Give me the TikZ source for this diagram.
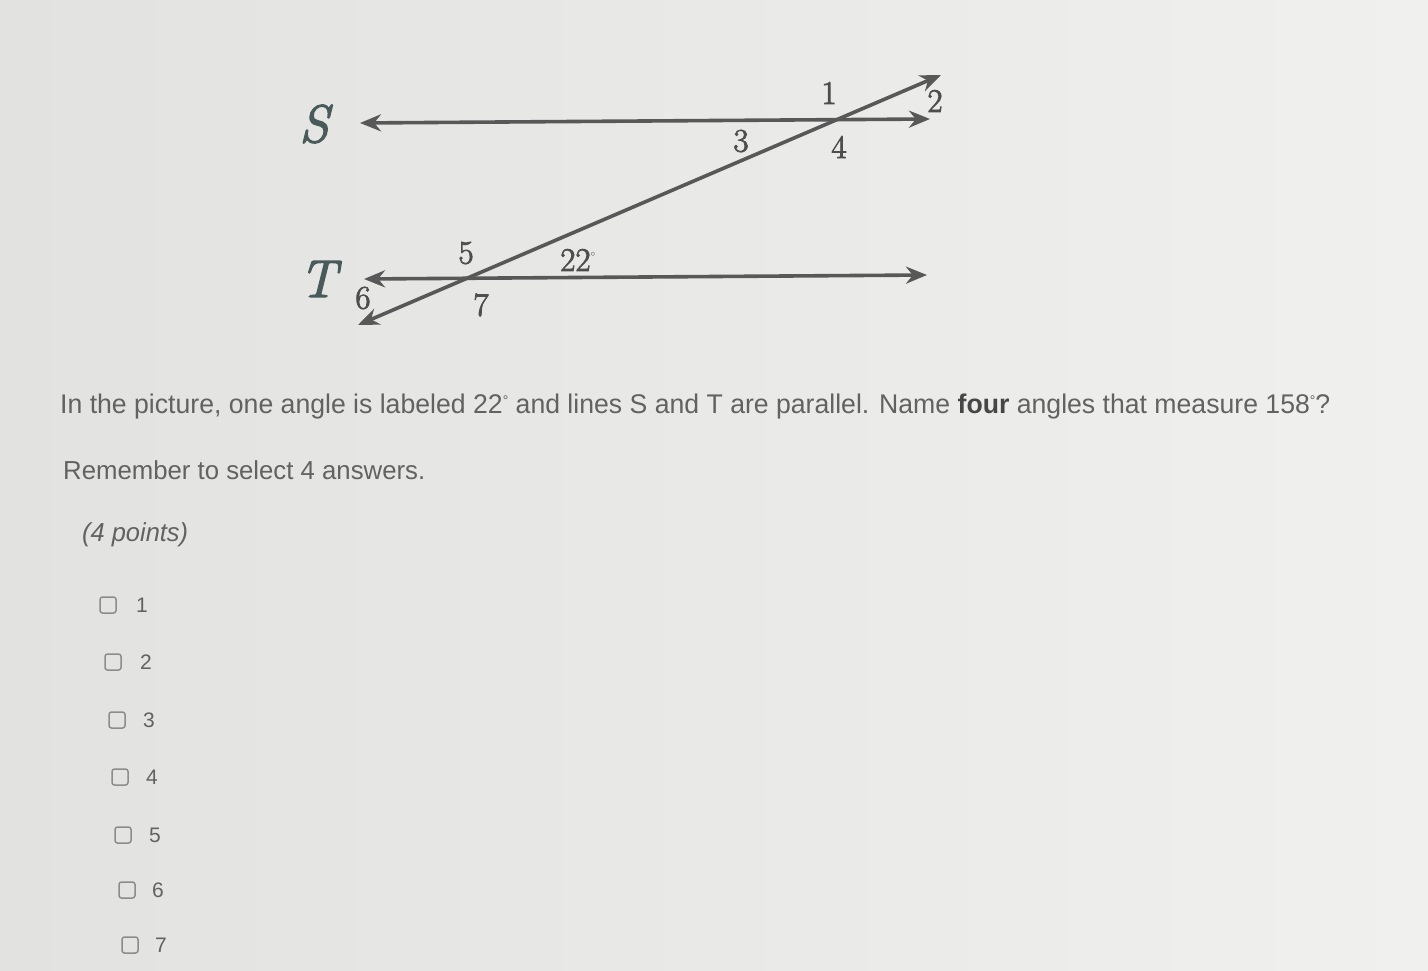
\documentclass[tikz,border=0pt]{standalone}
\usepackage{fontspec}
\usepackage{graphicx}
\newfontfamily\arial{Liberation Sans}
\newfontfamily\numfont{Latin Modern Roman}[FakeBold=2.5]
\usetikzlibrary{arrows.meta}
\definecolor{bgl}{RGB}{226,226,224}
\definecolor{bgr}{RGB}{240,240,238}
\definecolor{ln}{RGB}{88,88,88}
\definecolor{tx}{RGB}{78,78,78}
\definecolor{lt}{RGB}{72,90,90}
\definecolor{qt}{RGB}{98,98,98}
\definecolor{qb}{RGB}{70,70,70}
\definecolor{bx}{RGB}{140,140,140}
\begin{document}
\begin{tikzpicture}[x=1pt,y=-1pt,
  geoline/.style={draw=ln, line width=3.6pt,
    {Stealth[length=21pt,width=17pt]}-{Stealth[length=21pt,width=17pt]}},
  num/.style={text=tx, font=\numfont\fontsize{33}{33}\selectfont, inner sep=0pt},
  linename/.style={text=lt, font=\numfont\itshape\fontsize{53}{53}\selectfont, inner sep=0pt},
  qtext/.style={text=qt, anchor=base west, inner sep=0pt},
  cbox/.style={draw=bx, line width=1.5pt, rounded corners=2.5pt, minimum size=16pt, inner sep=0pt},
  opt/.style={text=qt, anchor=west, inner sep=0pt, font=\arial\fontsize{21}{21}\selectfont}]
\useasboundingbox (0,0) rectangle (1428,971);
\shade[left color=bgl, right color=bgr] (0,0) rectangle (1428,971);

% lines
\coordinate (sL) at (360,123);
\coordinate (sR) at (930,119);
\coordinate (tL) at (364,279);
\coordinate (tR) at (927,275);
\coordinate (xB) at (358,325);
\coordinate (xT) at (941,75);
\draw[geoline] (sL) -- (sR);
\draw[geoline] (tL) -- (tR);
\draw[geoline] (xB) -- (xT);

% line names
\node[linename] (S) at (314,124) {S};
\node[linename] (T) at (318,279) {T};

% angle numbers
\node[num] (a1) at (829,93) {1};
\node[num] (a2) at (935,101) {2};
\node[num] (a3) at (741,141) {3};
\node[num] (a4) at (839,147) {4};
\node[num] (a5) at (466,253) {5};
\node[num] (a6) at (363,298) {6};
\node[num] (a7) at (481,305) {7};
\node[num] (a22) at (578,260) {22\raisebox{10pt}{\fontsize{13}{13}\selectfont$^\circ$}};

% question
\node[qtext] (q1) at (60,413) {\resizebox{1270pt}{\height}{\arial\fontsize{27}{30}\selectfont In the picture, one angle is labeled 22\raisebox{8pt}{\fontsize{14}{14}\selectfont °} and lines S and T are parallel. Name \textcolor{qb}{\bfseries four} angles that measure 158\raisebox{8pt}{\fontsize{14}{14}\selectfont °}?}};
\node[qtext] (q2) at (63,479) {\resizebox{362pt}{\height}{\arial\fontsize{26}{30}\selectfont Remember to select 4 answers.}};
\node[qtext] (q3) at (82,541) {\resizebox{106pt}{\height}{\arial\fontsize{26}{30}\selectfont\itshape (4 points)}};

% options
\node[cbox] (c1) at (108,605) {};
\node[cbox] (c2) at (113,662) {};
\node[cbox] (c3) at (117,720) {};
\node[cbox] (c4) at (120,777) {};
\node[cbox] (c5) at (123,835) {};
\node[cbox] (c6) at (127,890) {};
\node[cbox] (c7) at (130,945) {};
\node[opt] (o1) at (136,605) {1};
\node[opt] (o2) at (140,662) {2};
\node[opt] (o3) at (143,720) {3};
\node[opt] (o4) at (146,777) {4};
\node[opt] (o5) at (149,835) {5};
\node[opt] (o6) at (152,890) {6};
\node[opt] (o7) at (155,945) {7};
\end{tikzpicture}
\end{document}
